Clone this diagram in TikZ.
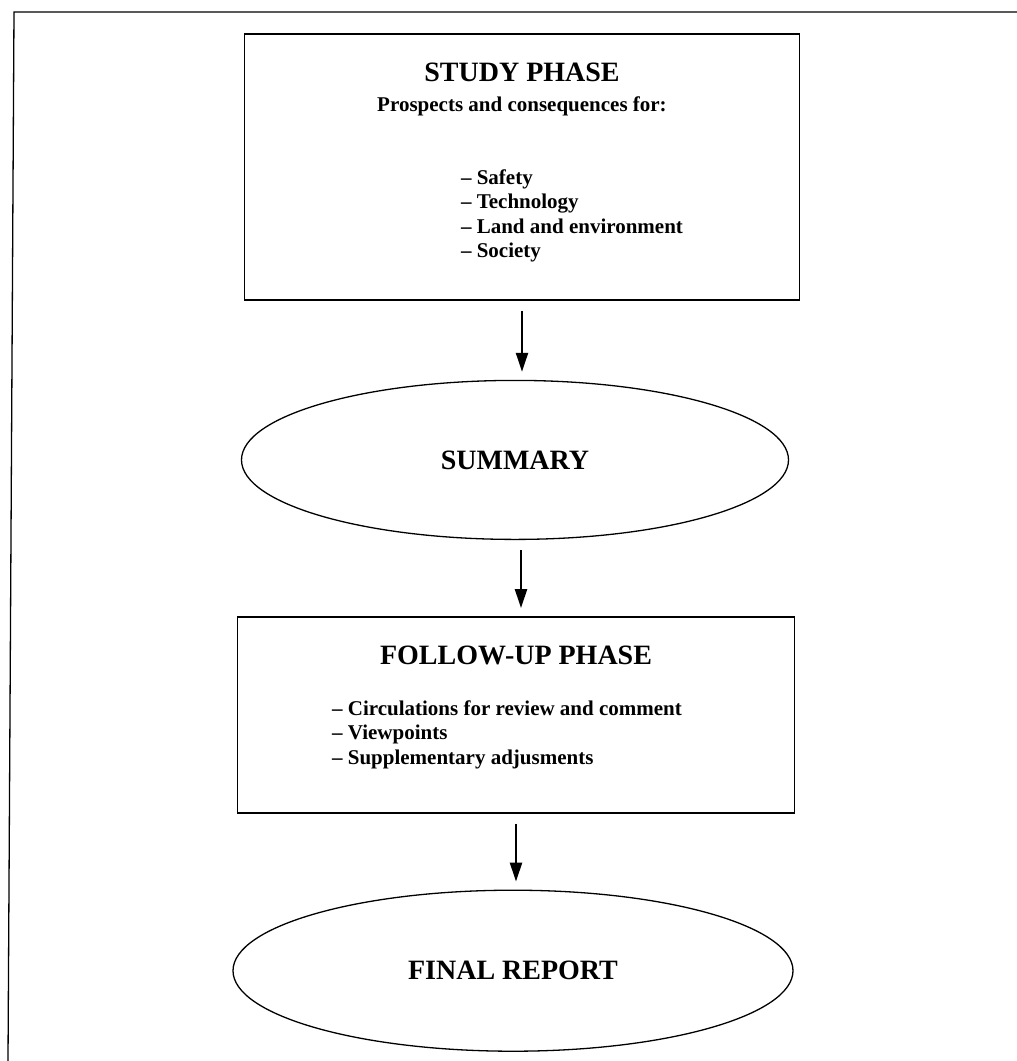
\documentclass[tikz,border=0pt]{standalone}
\usepackage{fontspec}
\setmainfont{Liberation Serif}
\usepackage{tikz}
\usetikzlibrary{positioning,arrows.meta,shapes.geometric}

\begin{document}
\begin{tikzpicture}[x=1pt, y=1pt,
    phasebox/.style={rectangle, draw=black, line width=1.5pt,
                     inner sep=0pt, align=center,
                     font=\bfseries\fontsize{21}{24.5}\selectfont},
    outcome/.style={ellipse, draw=black, line width=1.3pt, inner sep=0pt,
                    minimum width=550pt, minimum height=158pt,
                    font=\bfseries\fontsize{28}{32}\selectfont},
    arrow/.style={-{Triangle[length=19pt, width=12pt]}, line width=2.4pt,
                  shorten <=10pt, shorten >=8pt},
    frame/.style={line width=1.3pt}
]
    \useasboundingbox (0,0) rectangle (1017,-1061);
    \draw[frame] (8,-1061) -- (14,-12) -- (1017,-12);

    \node[phasebox, minimum width=555pt, minimum height=266pt] (study) at (522,-167)
        {{\fontsize{28}{32}\selectfont STUDY PHASE}\\[6pt]
         Prospects and consequences for:\\[50pt]
         \hspace*{100pt}\begin{tabular}{@{}l@{}}
         -- Safety\\ -- Technology\\ -- Land and environment\\ -- Society\\[6pt]
         \end{tabular}};
    \node[outcome, minimum width=547pt, minimum height=159pt,
          below=79pt of study, xshift=-7pt] (summary) {SUMMARY};
    \node[phasebox, minimum width=557pt, minimum height=196pt,
          below=76pt of summary, xshift=1pt] (follow)
        {{\fontsize{28}{32}\selectfont FOLLOW-UP PHASE}\\[32pt]
         \hspace*{-18pt}\begin{tabular}{@{}l@{}}
         -- Circulations for review and comment\\ -- Viewpoints\\
         -- Supplementary adjusments\\[12pt]
         \end{tabular}};
    \node[outcome, minimum width=560pt, minimum height=161pt,
          below=76pt of follow, xshift=-3pt] (final) {FINAL REPORT};

    \draw[arrow] (study.south) -- (study.south |- summary.north);
    \draw[arrow] ([xshift=6pt]summary.south) -- ([xshift=6pt]summary.south |- follow.north);
    \draw[arrow] (follow.south) -- (follow.south |- final.north);
\end{tikzpicture}
\end{document}
